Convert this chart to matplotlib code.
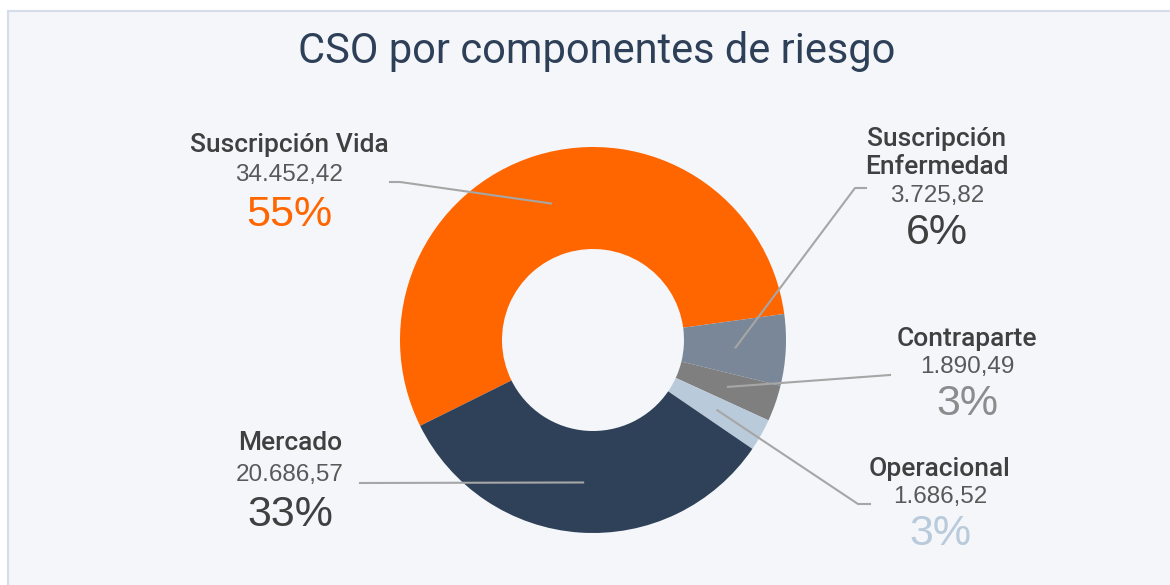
import matplotlib.pyplot as plt
import matplotlib.patches as mpatches
import numpy as np

# data
categories = ["Suscripción Vida", "Suscripción\nEnfermedad", "Contraparte", "Operacional", "Mercado"]
values = [34452.42, 3725.82, 1890.49, 1686.52, 20686.57]
value_labels = ["34.452,42", "3.725,82", "1.890,49", "1.686,52", "20.686,57"]
colors = ["#FF6600", "#7A8799", "#7F7F7F", "#B9CADB", "#2F4159"]
pct_colors = ["#FF6600", "#404040", "#8C8C8C", "#B9CADB", "#404040"]

W, H = 1170, 585
narrow = ["Roboto", "DejaVu Sans"]
regular = ["Liberation Sans", "DejaVu Sans"]

fig = plt.figure(figsize=(W / 100, H / 100), dpi=100)
fig.patch.set_facecolor("white")
ax = fig.add_axes([0, 0, 1, 1])

# background panel
ax.add_patch(mpatches.Rectangle((7.5, -10), W, H - 11 + 10, facecolor="#F4F6FA",
                                edgecolor="#D5DEE8", linewidth=1.5, zorder=0))

# donut, pixel coordinates (y measured from bottom)
cx, cy, R = 593, H - 340, 193
wedges, _ = ax.pie(values, colors=colors, startangle=206.4, counterclock=False,
                   center=(cx, cy), radius=R, frame=True,
                   wedgeprops=dict(width=R - 91, edgecolor="none"))
ax.set_xlim(0, W)
ax.set_ylim(0, H)
ax.set_aspect("equal")
ax.axis("off")

ax.text(597, H - 52, "CSO por componentes de riesgo", ha="center", va="center",
        fontsize=30, color="#2E4057", family=narrow)

# label layout: (text center x, name y, value y, pct y, line end x, line end y, elbow)
layout = [
    (289, [145], 175, 215, 400, 182, -10),
    (937, [139, 167], 196, 233, 855, 188, 11),
    (967, [339], 367, 404, 890, 375, 0),
    (940, [469], 497, 534, 858, 504, 12),
    (290, [443], 475, 515, 360, 483, 0),
]

for i, w in enumerate(wedges):
    tx, name_ys, vy, py, lx, ly, elbow = layout[i]
    for name, ny in zip(categories[i].split("\n"), name_ys):
        ax.text(tx, H - ny, name, ha="center", va="center", fontsize=19,
                fontweight="medium", color="#404040", family=narrow)
    ax.text(tx, H - vy, value_labels[i], ha="center", va="center", fontsize=17.5,
            color="#595959", family=regular)
    ax.text(tx, H - py, f"{values[i] / sum(values):.0%}", ha="center", va="center",
            fontsize=31, color=pct_colors[i], family=regular)

    # leader line from inside the wedge to the label
    ang = np.deg2rad((w.theta1 + w.theta2) / 2)
    sx, sy = cx + 0.74 * R * np.cos(ang), cy + 0.74 * R * np.sin(ang)
    xs, ys = [sx, lx], [sy, H - ly]
    if elbow:
        xs.append(lx + elbow)
        ys.append(H - ly)
    ax.plot(xs, ys, color="#A6A6A6", linewidth=1.5, zorder=3)

fig.savefig("out.png", dpi=100, facecolor=fig.get_facecolor())
